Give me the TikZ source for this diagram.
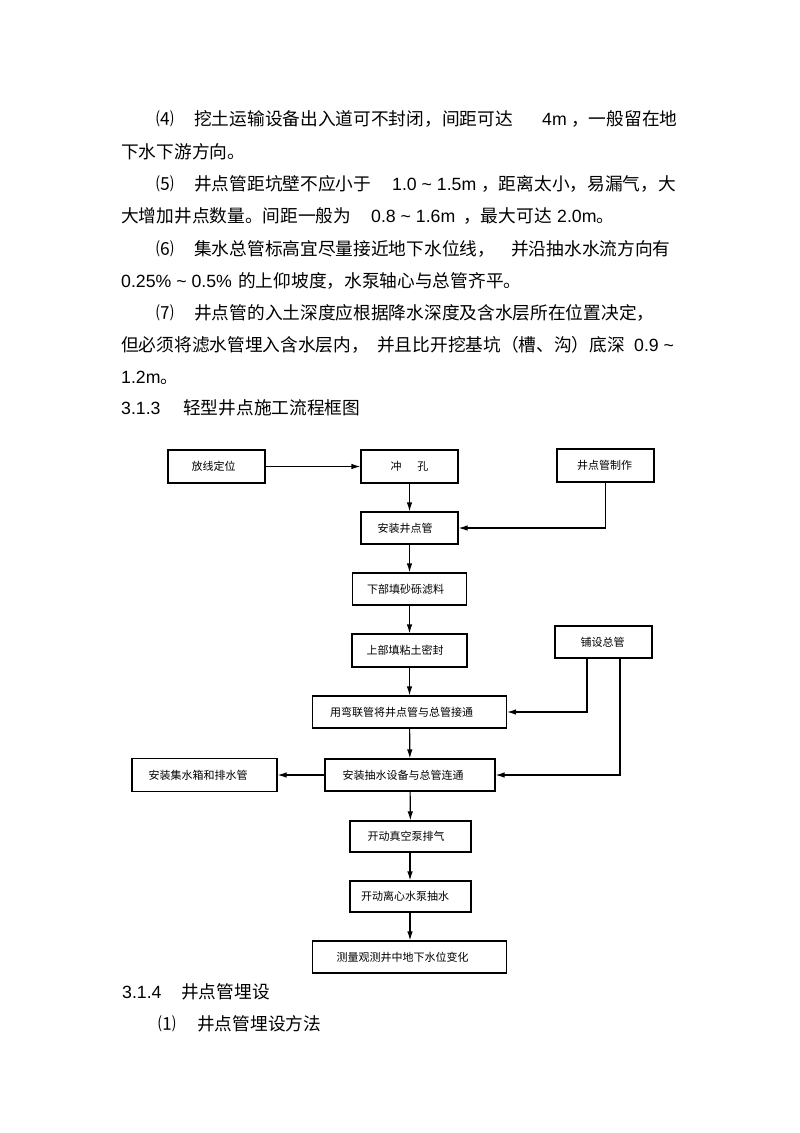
\documentclass[tikz,border=0pt]{standalone}
\usepackage{fontspec}
\setmainfont{Liberation Sans}
\newfontfamily\cjk{Noto Sans CJK SC}
\usetikzlibrary{arrows.meta}
\newcommand{\bodyf}{\cjk\fontsize{17.7}{20}\selectfont}
\newcommand{\latf}{\rmfamily\fontsize{17.7}{20}\selectfont}
\newcommand{\boxf}{\cjk\fontsize{11}{13}\selectfont}
\newcommand{\lft}[1]{\hspace*{#1pt}}
\tikzset{
  tx/.style={anchor=base west, inner sep=0pt, font=\bodyf},
  lt/.style={anchor=base west, inner sep=0pt, font=\latf},
  fbox/.style={draw, line width=1.15pt, inner sep=0pt, font=\boxf, minimum width=#1},
  fbox/.default=97pt,
  arr/.style={line width=1.15pt, -{Latex[length=9pt,width=5.5pt]}},
}
\begin{document}
\begin{tikzpicture}[x=1pt,y=-1pt]
\useasboundingbox (0,0) rectangle (800,1133);
\fill[white] (0,0) rectangle (800,1133);
% ---- body text ----
\node[tx] (n4) at (156,125.7) {⑷};
\node[tx] (l1a) at (194,125.7) {挖土运输设备出入道可不封闭，间距可达};
\node[lt] (l1b) at (542,125.7) {4m};
\node[tx] (l1c) at (571,125.7) {，一般留在地};
\node[tx] (l2a) at (121,158.2) {下水下游方向。};
\node[tx] (n5) at (156,190.7) {⑸};
\node[tx] (l3a) at (194,190.7) {井点管距坑壁不应小于};
\node[lt] (l3b) at (392,190.7) {1.0 \char"007E\ 1.5m};
\node[tx] (l3c) at (481,190.7) {，距离太小，易漏气，大};
\node[tx] (l4a) at (121,222.7) {大增加井点数量。间距一般为};
\node[lt] (l4b) at (371,222.7) {0.8 \char"007E\ 1.6m};
\node[tx] (l4c) at (463,222.7) {，最大可达};
\node[lt] (l4d) at (557,222.7) {2.0m};
\node[tx] (l4e) at (596,222.7) {。};
\node[tx] (n6) at (156,255.2) {⑹};
\node[tx] (l5a) at (194,255.2) {集水总管标高宜尽量接近地下水位线，};
\node[tx] (l5b) at (511,255.2) {并沿抽水水流方向有};
\node[lt] (l6a) at (121,287.7) {0.25\% \char"007E\ 0.5\%};
\node[tx] (l6b) at (238,287.7) {的上仰坡度，水泵轴心与总管齐平。};
\node[tx] (n7) at (156,319.7) {⑺};
\node[tx] (l7a) at (194,319.7) {井点管的入土深度应根据降水深度及含水层所在位置决定，};
\node[tx] (l8a) at (121,351.7) {但必须将滤水管埋入含水层内，};
\node[tx] (l8b) at (377,351.7) {并且比开挖基坑（槽、沟）底深};
\node[lt] (l8c) at (634,351.7) {0.9 \char"007E};
\node[lt] (l9a) at (121,383.7) {1.2m};
\node[tx] (l9b) at (160,383.7) {。};
\node[lt] (h3a) at (121,414.7) {3.1.3};
\node[tx] (h3b) at (183,414.7) {轻型井点施工流程框图};
\node[lt] (h4a) at (122,998.7) {3.1.4};
\node[tx] (h4b) at (181,998.7) {井点管埋设};
\node[tx] (n1) at (158,1030.7) {⑴};
\node[tx] (h5) at (197,1030.7) {井点管埋设方法};
% ---- flowchart ----
\node[fbox, minimum height=33pt] (fx) at (216.5,466.5) {放线定位\lft{6}};
\node[fbox, minimum height=33pt] (ck) at (409.5,466.5) {冲\hspace{16pt}孔};
\node[fbox, minimum height=33pt] (zz) at (605.5,465.5) {井点管制作\lft{2}};
\node[fbox, minimum height=32pt] (az) at (409.5,528) {安装井点管\lft{9}};
\node[fbox=114pt, minimum height=32pt] (xb) at (409.5,589) {下部填砂砾滤料\lft{8}};
\node[fbox=115pt, minimum height=33pt] (sb) at (409.5,650.5) {上部填粘土密封\lft{9}};
\node[fbox, minimum height=32pt] (pz) at (603.5,642) {铺设总管\lft{2}};
\node[fbox=194pt, minimum height=32pt] (yw) at (409.5,712) {用弯联管将井点管与总管接通\lft{16}};
\node[fbox=170pt, minimum height=32pt] (cs) at (410,775) {安装抽水设备与总管连通\lft{14}};
\node[fbox=145pt, minimum height=33pt] (jx) at (204.5,775) {安装集水箱和排水管\lft{13}};
\node[fbox=121pt, minimum height=31pt] (zk) at (410.5,836.5) {开动真空泵排气\lft{9}};
\node[fbox=121pt, minimum height=31pt] (lx) at (410.5,896.5) {开动离心水泵抽水\lft{11}};
\node[fbox=194pt, minimum height=32pt] (cl) at (409.5,957) {测量观测井中地下水位变化\lft{14}};
% connectors
\draw[arr] (fx) -- (ck);
\draw[arr] (ck) -- (az);
\draw[arr] (az) -- (xb);
\draw[arr] (xb) -- (sb);
\draw[arr] (sb) -- (yw);
\draw[arr] (yw) -- (cs);
\draw[arr] (cs) -- (zk);
\draw[arr] (zk.south -| cs.south) -- (lx.north -| cs.south);
\draw[arr] (lx.south -| cs.south) -- (cl.north -| cs.south);
\draw[arr] (zz.south) |- (az.east);
\draw[arr] ([xshift=-16.5pt]pz.south) |- (yw.east);
\draw[arr] ([xshift=16.5pt]pz.south) |- (cs.east);
\draw[arr] (cs) -- (jx);
\end{tikzpicture}
\end{document}
